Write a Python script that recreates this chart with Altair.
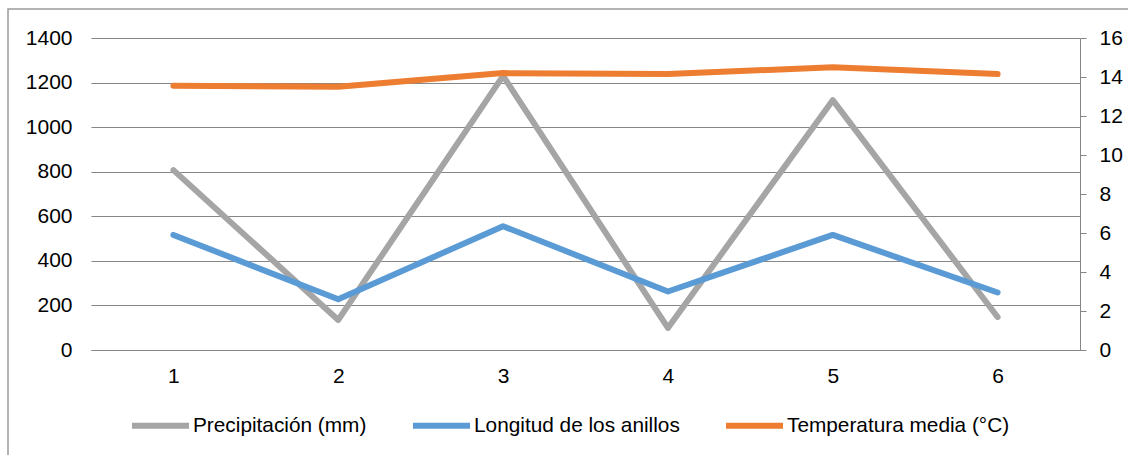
import altair as alt
import pandas as pd

# Observation index on the horizontal axis
periods = ["1", "2", "3", "4", "5", "6"]

# Series values
precipitacion = [807, 135, 1230, 99, 1121, 148]       # mm, left axis
longitud = [5.9, 2.6, 6.35, 3.0, 5.9, 2.95]            # right axis
temperatura = [13.55, 13.5, 14.2, 14.15, 14.5, 14.15]  # °C, right axis

series_names = ["Precipitación (mm)", "Longitud de los anillos", "Temperatura media (°C)"]
series_colors = ["#A5A5A5", "#5B9BD5", "#ED7D31"]

FONT = "Liberation Sans"
FS = 21
GRID = "#868686"

left_df = pd.DataFrame({"periodo": periods, "valor": precipitacion, "serie": series_names[0]})
right_df = pd.concat([
    pd.DataFrame({"periodo": periods, "valor": longitud, "serie": series_names[1]}),
    pd.DataFrame({"periodo": periods, "valor": temperatura, "serie": series_names[2]}),
], ignore_index=True)

x_enc = alt.X(
    "periodo:O",
    sort=periods,
    scale=alt.Scale(type="point", padding=0.5),
    axis=alt.Axis(
        title=None, labelAngle=0, ticks=False, domain=True, domainColor=GRID,
        labelFont=FONT, labelFontSize=FS, labelColor="#000000", labelPadding=15,
    ),
)

color_enc = alt.Color(
    "serie:N",
    scale=alt.Scale(domain=series_names, range=series_colors),
    legend=alt.Legend(
        title=None, orient="none", direction="horizontal",
        legendX=38, legendY=356,
        symbolType="stroke", symbolSize=3249, symbolStrokeWidth=6,
        labelFont=FONT, labelFontSize=20.8, labelColor="#000000",
        labelOffset=1, columnPadding=34, labelLimit=400,
    ),
)

line_kw = dict(strokeWidth=6, strokeCap="round", strokeJoin="round")

precip_layer = alt.Chart(left_df).mark_line(**line_kw).encode(
    x=x_enc,
    y=alt.Y(
        "valor:Q",
        scale=alt.Scale(domain=[0, 1400]),
        axis=alt.Axis(
            title=None, orient="left", values=list(range(0, 1401, 200)), format="d",
            domain=False, ticks=False, tickSize=0, grid=True, gridColor=GRID, gridWidth=1,
            labelFont=FONT, labelFontSize=FS, labelColor="#000000", labelPadding=19,
        ),
    ),
    color=color_enc,
)

right_layer = alt.Chart(right_df).mark_line(**line_kw).encode(
    x=x_enc,
    y=alt.Y(
        "valor:Q",
        scale=alt.Scale(domain=[0, 16]),
        axis=alt.Axis(
            title=None, orient="right", values=list(range(0, 17, 2)), format="d",
            domain=True, domainColor=GRID, ticks=True, tickColor=GRID, tickSize=6,
            grid=False, labelFont=FONT, labelFontSize=FS, labelColor="#000000",
            labelPadding=13,
        ),
    ),
    color=color_enc,
)

# Thin frame around the whole chart area
frame = alt.Chart(pd.DataFrame({"f": [0]})).mark_rect(
    fill=None, stroke="#9A9A9A", strokeWidth=1.5
).encode(
    x=alt.value(-83), x2=alt.value(1045),
    y=alt.value(-29), y2=alt.value(425),
)

chart = (
    alt.layer(frame, precip_layer, right_layer)
    .resolve_scale(y="independent")
    .properties(
        width=989, height=312,
        autosize=alt.AutoSizeParams(type="none"),
        padding={"left": 91, "top": 38, "right": 48, "bottom": 105},
        background="#FFFFFF",
    )
    .configure_view(stroke=None)
)

chart.save("out.html", embed_options={"renderer": "svg", "actions": False})
